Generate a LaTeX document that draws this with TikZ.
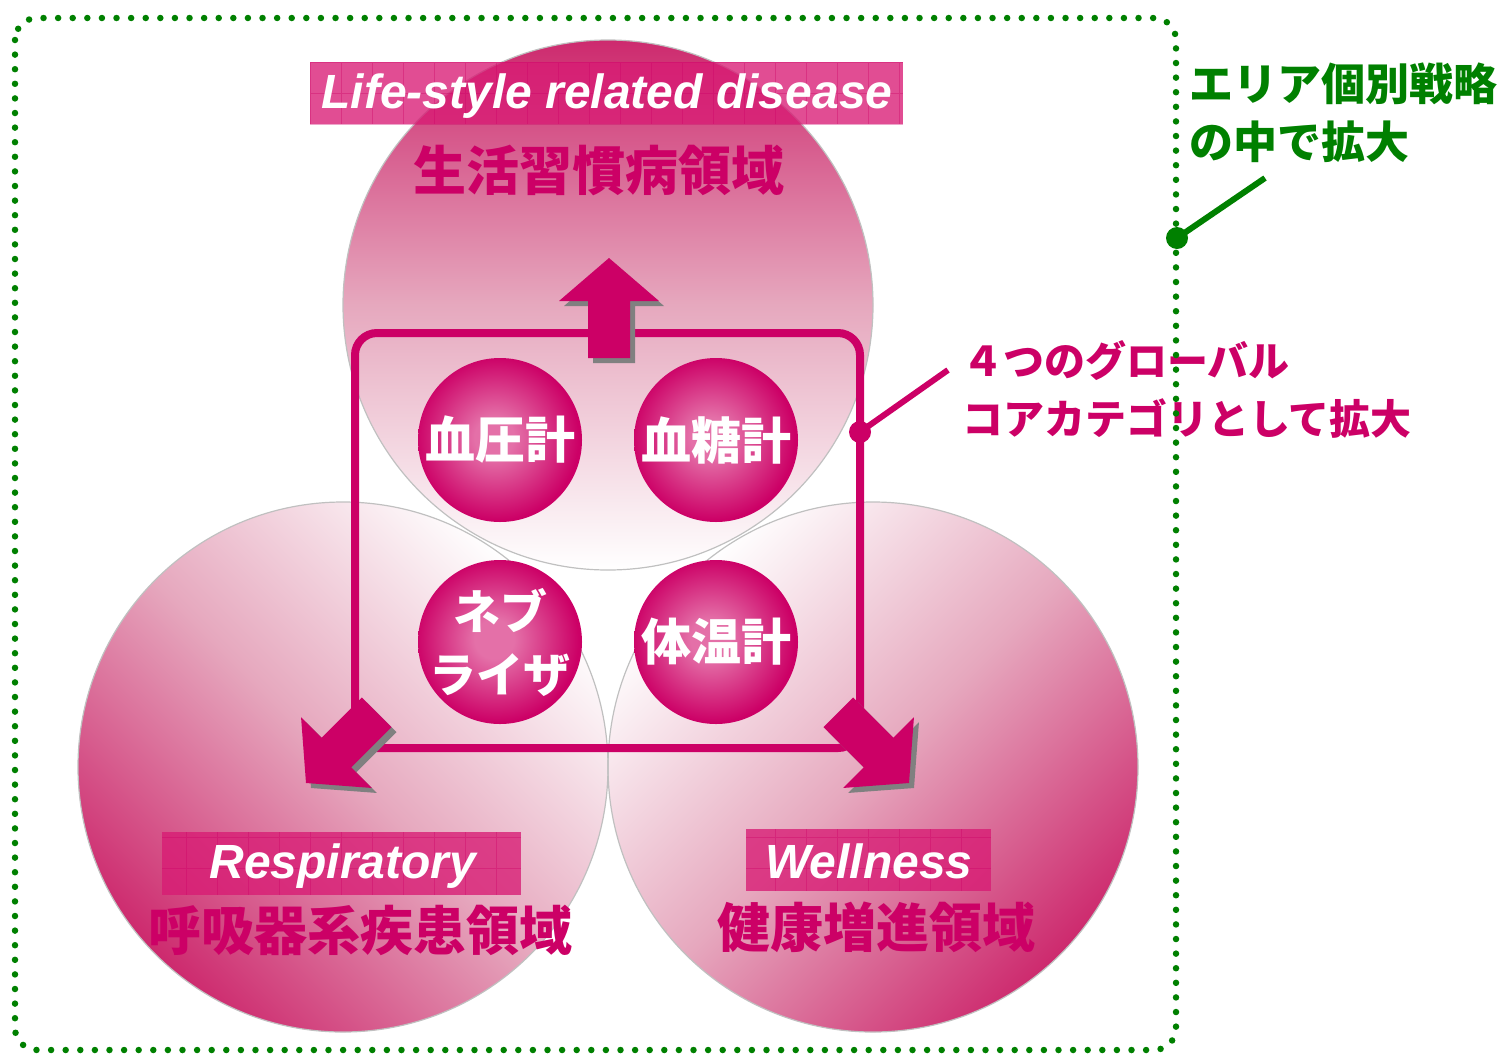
\documentclass[tikz,border=0pt]{standalone}
\usepackage{fontspec}
\usepackage{tikz}
\newfontfamily\jpfont{Noto Sans CJK JP}[BoldFont={Noto Sans CJK JP Black}]
\newfontfamily\latfont{Liberation Sans}
\definecolor{mgt}{RGB}{204,0,102}
\definecolor{circdark}{RGB}{205,42,110}
\definecolor{circmid}{RGB}{230,168,190}
\definecolor{bannerpink}{RGB}{216,27,116}
\definecolor{ballin}{RGB}{228,112,168}
\definecolor{dotgreen}{RGB}{0,128,0}
\definecolor{shadowgray}{RGB}{128,128,128}
\definecolor{rimgray}{RGB}{192,192,192}
\pgfdeclareradialshading{ballshade}{\pgfpoint{-2bp}{1bp}}{color(0bp)=(ballin); color(6bp)=(ballin); color(25bp)=(mgt); color(50bp)=(mgt)}

\tikzset{
  rim/.style={draw=rimgray, line width=1.2pt},
  banner/.style={fill=bannerpink, fill opacity=0.78},
  bannergrid/.style={draw=mgt, draw opacity=0.35, line width=0.6pt},
  engtext/.style={inner sep=0pt, text=white, font=\latfont\bfseries\itshape\fontsize{48}{58}\selectfont},
  areatext/.style={inner sep=0pt, text=mgt, font=\jpfont\bfseries\fontsize{53}{60}\selectfont},
  ball/.style={circle, minimum size=164, inner sep=0pt, shading=ballshade, text=white, align=center, font=\jpfont\bfseries\fontsize{50}{62}\selectfont},
  calltext/.style={inner sep=0pt, align=left, anchor=west},
}

\begin{document}
\begin{tikzpicture}[x=1pt,y=1pt,yscale=-1,xscale=1]
\useasboundingbox (0,0) rectangle (1504,1053);

%Big circles
\shade [top color=circdark, bottom color=white, middle color=circmid, shading angle=135] (343,767) circle (265);
\shade [top color=circdark, bottom color=white, middle color=circmid, shading angle=-135] (873,767) circle (265);
\shade [top color=circdark, bottom color=white, middle color=circmid] (608,305) circle (265);
\draw [rim] (343,767) circle (265);
\draw [rim] (873,767) circle (265);
\draw [rim] (608,305) circle (265);

%Banners
\fill [banner] (310,62) rectangle (903,124);
\draw [bannergrid, xstep=31, ystep=31] (310,62) grid (903,124);
\fill [banner] (162,832) rectangle (521,895);
\draw [bannergrid, xstep=31, ystep=31] (162,832) grid (521,895);
\fill [banner] (746,829) rectangle (991,891);
\draw [bannergrid, xstep=31, ystep=31] (746,829) grid (991,891);

% Text Node
\node [engtext] (lifeeng) at (607,96) {Life-style related disease};
\node [areatext] (lifejp) at (599,170) {生活習慣病領域};
\node [engtext] (respeng) at (343,866) {Respiratory};
\node [areatext] (respjp) at (360,930) {呼吸器系疾患領域};
\node [engtext] (welleng) at (869,861) {Wellness};
\node [areatext] (welljp) at (876,927) {健康増進領域};

%Core frame
\draw [mgt, line width=8, rounded corners=22] (355,333) rectangle (860,748);

%Block arrows (shadow first)
\fill [shadowgray, shift={(614,263)}, rotate=-90] (0,0) -- (-43,-50) -- (-43,-21) -- (-100,-21) -- (-100,21) -- (-43,21) -- (-43,50) -- cycle;
\fill [mgt, shift={(609,258)}, rotate=-90] (0,0) -- (-43,-50) -- (-43,-21) -- (-100,-21) -- (-100,21) -- (-43,21) -- (-43,50) -- cycle;
\fill [shadowgray, shift={(311,788)}, rotate=135] (0,0) -- (-43,-50) -- (-43,-21) -- (-100,-21) -- (-100,21) -- (-43,21) -- (-43,50) -- cycle;
\fill [mgt, shift={(306,783)}, rotate=135] (0,0) -- (-43,-50) -- (-43,-21) -- (-100,-21) -- (-100,21) -- (-43,21) -- (-43,50) -- cycle;
\fill [shadowgray, shift={(914,788)}, rotate=45] (0,0) -- (-43,-50) -- (-43,-21) -- (-100,-21) -- (-100,21) -- (-43,21) -- (-43,50) -- cycle;
\fill [mgt, shift={(909,783)}, rotate=45] (0,0) -- (-43,-50) -- (-43,-21) -- (-100,-21) -- (-100,21) -- (-43,21) -- (-43,50) -- cycle;

%Device balls
\node [ball] (bp) at (500,440) {血圧計};
\node [ball] (gluc) at (716,440) {血糖計};
\node [ball, inner sep=-9pt, font=\jpfont\bfseries\fontsize{47}{63}\selectfont] (neb) at (500,642) {ネブ\\ライザ};
\node [ball] (temp) at (716,642) {体温計};

%Global callout
\coordinate (mdot) at (860,432);
\coordinate (mend) at (948,370);
\draw [mgt, line width=6] (mdot) -- (mend);
\fill [mgt] (mdot) circle (11);
\node [calltext, text=mgt, font=\jpfont\bfseries\fontsize{41}{58}\selectfont] (globtext) at (962,389) {４つのグローバル\\コアカテゴリとして拡大};

%Area frame
\draw [dotgreen, line width=6.5, line cap=round, dash pattern=on 0pt off 14.6pt, rounded corners=22] (15,18) rectangle (1176,1050);

%Area callout
\coordinate (gdot) at (1177,238);
\coordinate (gend) at (1265,178);
\draw [dotgreen, line width=6] (gdot) -- (gend);
\fill [dotgreen] (gdot) circle (11);
\node [calltext, text=dotgreen, font=\jpfont\bfseries\fontsize{44}{58}\selectfont] (areatext) at (1189,113) {エリア個別戦略\\の中で拡大};

\end{tikzpicture}
\end{document}
